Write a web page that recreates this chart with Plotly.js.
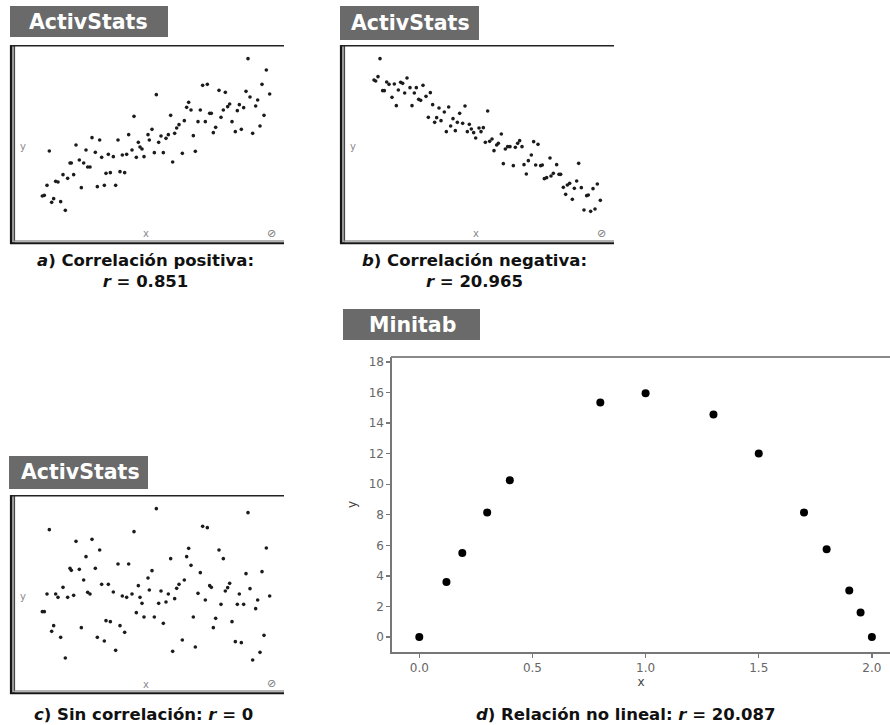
<!DOCTYPE html>
<html>
<head>
<meta charset="utf-8">
<script src="https://cdn.plot.ly/plotly-3.0.1.min.js"></script>
<style>html,body{margin:0;padding:0;background:#fff;}#chart{width:890px;height:725px;}</style>
</head>
<body>
<div id="chart"></div>
<script>
// a) Correlación positiva
var xA = [14.8,12.7,13.3,14.1,15.5,16.1,16.7,17.4,18.2,18.9,19.6,20.3,21.0,21.4,22.1,22.8,23.8,24.4,25.1,25.8,26.3,27.0,27.6,28.6,29.2,29.9,30.5,31.3,31.8,32.5,33.1,34.0,34.7,35.4,36.0,36.7,37.4,38.0,38.6,39.6,40.2,40.9,41.5,42.0,42.6,43.2,44.4,44.8,45.6,46.3,46.9,47.6,48.3,49.0,49.8,50.5,51.2,51.8,52.4,53.0,53.7,54.7,55.3,56.0,56.6,57.3,58.0,58.6,59.4,60.1,60.8,61.6,62.2,62.9,63.4,64.0,64.7,65.7,66.3,67.0,67.6,68.3,68.9,69.6,70.6,71.2,71.8,72.4,73.1,73.8,74.4,75.0,75.8,76.7,77.3,78.0,78.6,79.2,79.9,80.9];
var yA = [29.7,16.2,16.4,19.4,14.3,15.4,20.6,20.4,14.5,22.6,11.9,21.5,26.1,26.1,22.6,31.5,27.0,18.7,26.1,30.0,24.9,24.9,33.7,29.3,19.0,33.0,27.8,19.4,23.0,28.7,23.2,28.0,19.4,33.0,23.5,28.5,23.2,28.7,34.6,30.0,40.1,27.8,32.3,30.9,30.3,28.0,34.6,33.0,36.2,29.2,46.6,32.3,34.2,29.2,33.5,34.6,40.4,26.4,35.0,36.6,37.6,29.0,38.8,42.8,44.3,42.0,34.3,29.6,38.5,42.0,49.4,38.5,49.7,41.0,41.0,35.2,36.8,47.9,39.8,42.0,47.3,43.0,43.8,38.5,35.5,41.8,43.6,36.2,42.7,47.6,57.4,45.9,35.0,43.2,45.0,37.2,49.7,40.4,54.0,46.8];

// b) Correlación negativa
var xB = [15.0,13.2,13.7,14.4,15.8,16.3,17.0,17.7,18.6,19.3,19.9,20.5,21.2,21.8,22.4,23.1,24.0,24.6,25.3,25.9,26.6,27.2,27.9,28.8,29.5,30.1,30.8,31.4,32.0,32.7,33.3,34.3,34.9,35.6,36.2,36.9,37.6,38.2,38.9,39.8,40.5,41.2,41.8,42.4,43.1,43.7,44.7,45.3,46.0,46.6,47.3,47.9,48.6,49.2,50.0,50.5,51.4,52.0,52.6,53.3,54.0,55.0,55.6,56.3,56.9,57.6,58.2,58.9,59.5,60.4,61.1,61.7,62.4,63.2,63.7,64.3,65.0,66.0,66.3,67.0,68.0,68.7,69.2,70.0,70.7,71.2,71.9,72.7,73.3,74.0,74.6,75.4,76.2,77.0,77.5,78.2,78.9,79.5,80.2,81.1];
var yB = [57.4,51.0,50.7,52.0,47.8,47.8,50.4,49.7,45.8,49.8,43.3,48.0,50.3,50.0,47.1,51.6,48.7,43.3,47.1,48.7,45.2,44.9,49.4,46.1,39.8,47.2,43.6,38.3,39.7,42.6,38.8,41.4,35.5,42.9,37.2,39.4,35.8,38.3,41.0,38.0,43.2,35.5,37.7,36.3,35.2,33.6,36.6,35.5,36.7,32.3,41.7,32.6,33.3,29.8,31.5,32.0,34.8,25.9,30.3,31.0,31.0,25.3,30.8,32.0,32.8,31.0,25.6,22.8,26.8,28.5,32.5,25.5,31.7,25.3,25.5,21.4,21.7,27.6,22.2,23.0,25.6,22.7,22.7,18.8,16.7,19.5,20.0,15.2,18.5,20.7,26.0,18.7,12.0,16.3,16.5,11.6,18.4,12.3,19.8,14.9];

// c) Sin correlación
var xC = [14.8,12.7,13.3,14.1,15.5,16.1,16.7,17.4,18.2,18.9,19.6,20.3,21.0,21.4,22.1,22.8,23.8,24.4,25.1,25.8,26.3,27.0,27.6,28.6,29.2,29.9,30.5,31.3,31.8,32.5,33.1,34.0,34.7,35.4,36.0,36.7,37.4,38.0,38.6,39.6,40.2,40.9,41.5,42.0,42.6,43.2,44.4,44.8,45.6,46.3,46.9,47.6,48.3,49.0,49.8,50.5,51.2,51.8,52.4,53.0,53.7,54.7,55.3,56.0,56.6,57.3,58.0,58.6,59.4,60.1,60.8,61.6,62.2,62.9,63.4,64.0,64.7,65.7,66.3,67.0,67.6,68.3,68.9,69.6,70.6,71.2,71.8,72.4,73.1,73.8,74.4,75.0,75.8,76.7,77.3,78.0,78.6,79.2,79.9,80.9];
var yC = [51.1,26.5,26.5,31.8,20.6,22.3,31.8,30.8,18.8,33.8,12.6,30.8,39.5,38.9,31.4,47.6,39.2,21.7,36.0,43.0,32.3,31.8,48.2,39.5,18.8,45.0,34.7,17.7,23.8,34.7,23.5,32.4,14.9,40.8,22.3,31.2,20.3,30.8,40.8,31.8,50.5,26.2,34.3,30.8,29.0,24.9,36.6,33.0,38.8,24.9,57.4,29.0,32.7,23.0,29.4,31.8,42.4,14.6,30.4,33.5,34.7,18.0,36.0,43.0,45.5,40.4,24.9,15.9,32.0,38.2,52.1,30.0,51.7,34.3,33.8,21.7,24.5,45.0,28.7,42.4,32.7,33.7,35.0,23.5,17.5,28.7,31.8,17.2,28.7,37.9,56.2,33.4,12.0,27.4,30.0,14.3,38.5,19.4,45.6,31.2];

// d) Relación no lineal (Minitab)
var xD = [0.0,0.12,0.19,0.30,0.40,0.80,1.00,1.30,1.50,1.70,1.80,1.90,1.95,2.00];
var yD = [0.0,3.6,5.5,8.15,10.25,15.35,15.95,14.55,12.0,8.15,5.75,3.05,1.6,0.0];
var dTickVals = [0,2,4,6,8,10,12,14,16,18];
var dXTickVals = [0,0.5,1.0,1.5,2.0];
var dXTickText = ['0.0','0.5','1.0','1.5','2.0'];

var captions = [
  '<b><i>a</i>) Correlación positiva:<br><i>r</i> = 0.851</b>',
  '<b><i>b</i>) Correlación negativa:<br><i>r</i> = 20.965</b>',
  '<b><i>c</i>) Sin correlación: <i>r</i> = 0</b>',
  '<b><i>d</i>) Relación no lineal: <i>r</i> = 20.087</b>'
];
var sourceLabels = ['ActivStats','ActivStats','ActivStats','Minitab'];

var W = 890, H = 725;
function PX(v){ return v / W; }
function PY(v){ return 1 - v / H; }

var dotA = {size: 3.6, color: '#1b1b1b'};
var traces = [
  {x: xA, y: yA, type: 'scatter', mode: 'markers', marker: dotA, xaxis: 'x', yaxis: 'y', hoverinfo: 'skip'},
  {x: xB, y: yB, type: 'scatter', mode: 'markers', marker: dotA, xaxis: 'x2', yaxis: 'y2', hoverinfo: 'skip'},
  {x: xC, y: yC, type: 'scatter', mode: 'markers', marker: dotA, xaxis: 'x3', yaxis: 'y3', hoverinfo: 'skip'},
  {x: xD, y: yD, type: 'scatter', mode: 'markers', marker: {size: 8, color: '#000'}, xaxis: 'x4', yaxis: 'y4', hoverinfo: 'skip'}
];

function hiddenAxis(domain, range, anchor){
  return {domain: domain, range: range, anchor: anchor, showgrid: false, zeroline: false,
          showticklabels: false, ticks: '', showline: false, fixedrange: true};
}

var layout = {
  width: W, height: H,
  margin: {l: 0, r: 0, t: 0, b: 0},
  paper_bgcolor: '#ffffff', plot_bgcolor: 'rgba(0,0,0,0)',
  showlegend: false,
  font: {family: 'DejaVu Sans, sans-serif'},
  xaxis:  hiddenAxis([PX(15), PX(284)], [4.5, 85.2], 'y'),
  yaxis:  hiddenAxis([PY(243), PY(46)], [2.1, 61.2], 'x'),
  xaxis2: hiddenAxis([PX(345), PX(614)], [4.5, 85.2], 'y2'),
  yaxis2: hiddenAxis([PY(243), PY(46)], [2.1, 61.2], 'x2'),
  xaxis3: hiddenAxis([PX(15), PX(284)], [4.5, 85.2], 'y3'),
  yaxis3: hiddenAxis([PY(693), PY(496)], [2.1, 61.2], 'x3'),
  xaxis4: {domain: [PX(392), 1], range: [-0.1206, 2.08], anchor: 'y4',
           tickvals: dXTickVals, ticktext: dXTickText, ticks: 'outside', ticklen: 4, tickwidth: 1.3,
           tickcolor: '#777', showline: true, linecolor: '#777', linewidth: 1.6, showgrid: false,
           zeroline: false, tickfont: {size: 12, color: '#666'}, fixedrange: true,
           title: {text: 'x', font: {size: 12, color: '#444'}, standoff: 3}},
  yaxis4: {domain: [PY(652), PY(357)], range: [-0.98, 18.32], anchor: 'x4',
           tickvals: dTickVals, ticks: 'outside', ticklen: 4, tickwidth: 1.3, tickcolor: '#777',
           showline: true, linecolor: '#777', linewidth: 1.6, showgrid: false, zeroline: false,
           tickfont: {size: 12, color: '#666'}, fixedrange: true,
           title: {text: 'y', font: {size: 12, color: '#444'}, standoff: 9}},
  shapes: [],
  annotations: []
};

// ActivStats frames
function activFrame(L, T, B, R){
  var s = [];
  s.push({type: 'rect', xref: 'paper', yref: 'paper', x0: PX(L), x1: PX(L + 5), y0: PY(B + 1), y1: PY(T), fillcolor: '#a5a5a5', line: {width: 0}, layer: 'below'});
  s.push({type: 'line', xref: 'paper', yref: 'paper', x0: PX(L + 1), x1: PX(L + 1), y0: PY(B + 1), y1: PY(T), line: {color: '#151515', width: 2.2}});
  s.push({type: 'line', xref: 'paper', yref: 'paper', x0: PX(L + 4.5), x1: PX(L + 4.5), y0: PY(B - 2), y1: PY(T + 1), line: {color: '#444', width: 1.2}});
  s.push({type: 'line', xref: 'paper', yref: 'paper', x0: PX(L), x1: PX(R), y0: PY(T + 0.8), y1: PY(T + 0.8), line: {color: '#222', width: 1.5}});
  s.push({type: 'line', xref: 'paper', yref: 'paper', x0: PX(L + 4.5), x1: PX(R), y0: PY(B - 2), y1: PY(B - 2), line: {color: '#9a9a9a', width: 1.3}});
  s.push({type: 'line', xref: 'paper', yref: 'paper', x0: PX(L), x1: PX(R), y0: PY(B + 0.3), y1: PY(B + 0.3), line: {color: '#151515', width: 2}});
  return s;
}
layout.shapes = layout.shapes.concat(activFrame(10, 45, 243, 284));
layout.shapes = layout.shapes.concat(activFrame(340, 45, 243, 614));
layout.shapes = layout.shapes.concat(activFrame(10, 495, 693, 284));
// Minitab top frame line
layout.shapes.push({type: 'line', xref: 'paper', yref: 'paper', x0: PX(391), x1: 1, y0: PY(357), y1: PY(357), line: {color: '#8a8a8a', width: 2}});

// Source label boxes
var boxes = [[10, 6, 168, 37, 88, 22], [340, 6, 479, 40, 410, 23], [9, 456, 148, 489, 80, 472], [343, 309, 480, 340, 412, 325]];
boxes.forEach(function(b, i){
  layout.shapes.push({type: 'rect', xref: 'paper', yref: 'paper', x0: PX(b[0]), x1: PX(b[2]), y0: PY(b[3]), y1: PY(b[1]), fillcolor: '#6a6a6a', line: {width: 0}});
  layout.annotations.push({xref: 'paper', yref: 'paper', x: PX(b[4]), y: PY(b[5]), xanchor: 'center', yanchor: 'middle', showarrow: false,
    text: '<b>' + sourceLabels[i] + '</b>', font: {family: 'DejaVu Sans, sans-serif', size: 20.5, color: '#ffffff'}});
});

// ActivStats small axis letters and icon
[[0, 0], [330, 0], [0, 450]].forEach(function(o){
  layout.annotations.push({xref: 'paper', yref: 'paper', x: PX(o[0] + 23), y: PY(o[1] + 146), xanchor: 'center', yanchor: 'middle', showarrow: false,
    text: 'y', font: {size: 10, color: '#8a8a8a'}});
  layout.annotations.push({xref: 'paper', yref: 'paper', x: PX(o[0] + 146), y: PY(o[1] + 234), xanchor: 'center', yanchor: 'middle', showarrow: false,
    text: 'x', font: {size: 10, color: '#8a8a8a'}});
  layout.annotations.push({xref: 'paper', yref: 'paper', x: PX(o[0] + 271), y: PY(o[1] + 233), xanchor: 'center', yanchor: 'middle', showarrow: false,
    text: '⊘', font: {size: 11, color: '#777'}});
});

// Captions
var capPos = [[145, 271], [474, 271], [143, 714], [625, 714]];
capPos.forEach(function(p, i){
  layout.annotations.push({xref: 'paper', yref: 'paper', x: PX(p[0]), y: PY(p[1]), xanchor: 'center', yanchor: 'middle', showarrow: false,
    text: captions[i], font: {family: 'DejaVu Sans, sans-serif', size: 16.5, color: '#111'}});
});

Plotly.newPlot('chart', traces, layout, {staticPlot: true, displayModeBar: false});
</script>
</body>
</html>
